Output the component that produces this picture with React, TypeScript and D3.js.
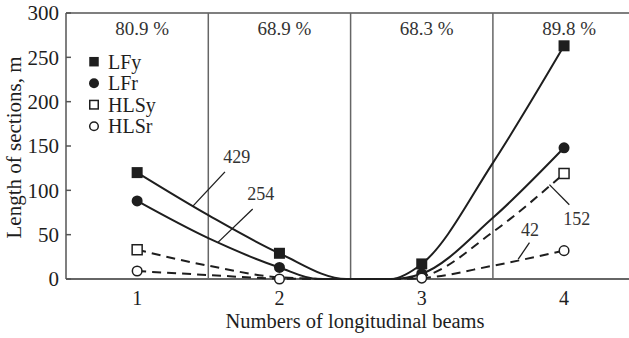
import React from 'react';
import * as d3 from 'd3';

const categories = [1, 2, 3, 4];
const percentLabels = ['80.9 %', '68.9 %', '68.3 %', '89.8 %'];
const yTicks = [0, 50, 100, 150, 200, 250, 300];
const dividers = [1.5, 2.5, 3.5];

// marker values
const lfyValues = [120, 29, 17, 263];
const lfrValues = [88, 13, 6, 148];
const hlsyValues: (number | null)[] = [33, null, null, 119];
const hlsrValues = [9, 0, 1, 32];

// trend curves (clipped at zero)
const lfyCurveX = [1, 1.5, 2, 2.47, 2.78, 3, 3.5, 4];
const lfyCurveY = [120, 72, 29, 0, 0, 17, 131, 263];
const lfrCurveX = [1, 1.5, 2, 2.27, 2.78, 3, 3.5, 4];
const lfrCurveY = [88, 46, 13, 0, 0, 6, 69, 148];
const hlsyCurveX = [1, 1.5, 2, 2.4, 2.78, 3, 3.5, 4];
const hlsyCurveY = [33, 15, 2, 0, 0, 3, 53, 119];
const hlsrCurveX = [1, 1.5, 2, 2.4, 2.8, 3, 3.5, 4];
const hlsrCurveY = [9, 4.5, 0.5, 0, 0, 1, 15, 32];

// annotations
const annoText = ['429', '254', '152', '42'];
const annoTextX = [1.7, 1.868, 4.09, 3.76];
const annoTextY = [131, 89.4, 61, 48.7];
const leaderX1 = [1.617, 1.812, 3.897, 3.757];
const leaderY1 = [120.8, 78.9, 106.4, 41.1];
const leaderX2 = [1.39, 1.566, 4.037, 3.678];
const leaderY2 = [81.9, 41, 83.8, 22.3];

const legendNames = ['LFy', 'LFr', 'HLSy', 'HLSr'];

const W = 629;
const H = 338;
const FONT = '"Liberation Serif", "Times New Roman", serif';
const INK = '#1e1e1e';

export default function App() {
  const x = d3.scaleLinear().domain([0.5, 4.5]).range([66, 635.2]);
  const y = d3.scaleLinear().domain([0, 300]).range([279, 13]);

  const line = d3
    .line<[number, number]>()
    .x((d) => x(d[0]))
    .y((d) => y(d[1]))
    .curve(d3.curveMonotoneX);

  const mk = (xs: number[], ys: number[]) => xs.map((v, i) => [v, ys[i]] as [number, number]);

  const curves = [
    { d: line(mk(lfyCurveX, lfyCurveY)), dash: undefined },
    { d: line(mk(lfrCurveX, lfrCurveY)), dash: undefined },
    { d: line(mk(hlsyCurveX, hlsyCurveY)), dash: '9,6' },
    { d: line(mk(hlsrCurveX, hlsrCurveY)), dash: '9,6' },
  ];

  const x0 = x(0.5);
  const yTop = y(300);
  const yBot = y(0);

  const square = (cx: number, cy: number, s: number, filled: boolean, key: string) => (
    <rect
      key={key}
      x={cx - s / 2}
      y={cy - s / 2}
      width={s}
      height={s}
      fill={filled ? INK : '#fff'}
      stroke={INK}
      strokeWidth={filled ? 0 : 1.5}
    />
  );
  const circle = (cx: number, cy: number, r: number, filled: boolean, key: string) => (
    <circle key={key} cx={cx} cy={cy} r={r} fill={filled ? INK : '#fff'} stroke={INK} strokeWidth={filled ? 0 : 1.5} />
  );

  return (
    <svg
      width={W}
      height={H}
      style={{ position: 'absolute', left: 0, top: 0, background: '#fff' }}
      fontFamily={FONT}
    >
      <rect x={0} y={0} width={W} height={H} fill="#fff" />
      {/* frame */}
      <line x1={x0} x2={W} y1={yTop} y2={yTop} stroke="#555" strokeWidth={1.5} />
      <line x1={x0} x2={W} y1={yBot} y2={yBot} stroke="#333" strokeWidth={1.5} />
      <line x1={x0} x2={x0} y1={yTop} y2={yBot} stroke="#555" strokeWidth={1.5} />
      {dividers.map((d, i) => (
        <line key={'dv' + i} x1={x(d)} x2={x(d)} y1={yTop} y2={yBot} stroke="#666" strokeWidth={1.5} />
      ))}
      {/* y ticks */}
      {yTicks.map((t) => (
        <g key={'yt' + t}>
          <line x1={x0} x2={x0 + 5} y1={y(t)} y2={y(t)} stroke="#555" strokeWidth={1.5} />
          <text x={x0 - 7} y={y(t)} dy="0.35em" textAnchor="end" fontSize={21} fill={INK}>
            {t}
          </text>
        </g>
      ))}
      {/* x tick labels */}
      {categories.map((c) => (
        <text key={'xt' + c} x={x(c)} y={304.5} textAnchor="middle" fontSize={20} fill={INK}>
          {c}
        </text>
      ))}
      {/* percent labels */}
      {categories.map((c, i) => (
        <text key={'pc' + c} x={x(c) + 5} y={35} textAnchor="middle" fontSize={19} fill="#333">
          {percentLabels[i]}
        </text>
      ))}
      {/* axis titles */}
      <text x={355} y={327.5} textAnchor="middle" fontSize={20.5} fill={INK}>
        Numbers of longitudinal beams
      </text>
      <text transform="translate(21,147.5) rotate(-90)" textAnchor="middle" fontSize={21} fill={INK}>
        Length of sections, m
      </text>
      {/* curves */}
      {curves.map((c, i) => (
        <path key={'cv' + i} d={c.d || ''} fill="none" stroke={INK} strokeWidth={2} strokeDasharray={c.dash} />
      ))}
      {/* annotations */}
      {annoText.map((t, i) => (
        <g key={'an' + i}>
          <line
            x1={x(leaderX1[i])}
            y1={y(leaderY1[i])}
            x2={x(leaderX2[i])}
            y2={y(leaderY2[i])}
            stroke={INK}
            strokeWidth={1.3}
          />
          <text x={x(annoTextX[i])} y={y(annoTextY[i])} textAnchor="middle" fontSize={18} fill="#333">
            {t}
          </text>
        </g>
      ))}
      {/* markers */}
      {categories.map((c, i) => square(x(c), y(lfyValues[i]), 11, true, 'lfy' + i))}
      {categories.map((c, i) => circle(x(c), y(lfrValues[i]), 5.5, true, 'lfr' + i))}
      {categories.map((c, i) =>
        hlsyValues[i] == null ? null : square(x(c), y(hlsyValues[i] as number), 10, false, 'hlsy' + i)
      )}
      {categories.map((c, i) => circle(x(c), y(hlsrValues[i]), 4.8, false, 'hlsr' + i))}
      {/* legend */}
      {legendNames.map((n, i) => {
        const cy = 61.7 + i * 21.5;
        const cx = 94;
        let m;
        if (i === 0) m = square(cx, cy, 9.5, true, 'lg' + i);
        else if (i === 1) m = circle(cx, cy, 5, true, 'lg' + i);
        else if (i === 2) m = square(cx, cy, 8.5, false, 'lg' + i);
        else m = circle(cx, cy, 4.3, false, 'lg' + i);
        return (
          <g key={'lgg' + i}>
            {m}
            <text x={108} y={cy} dy="0.35em" fontSize={20} fill={INK}>
              {n}
            </text>
          </g>
        );
      })}
    </svg>
  );
}
